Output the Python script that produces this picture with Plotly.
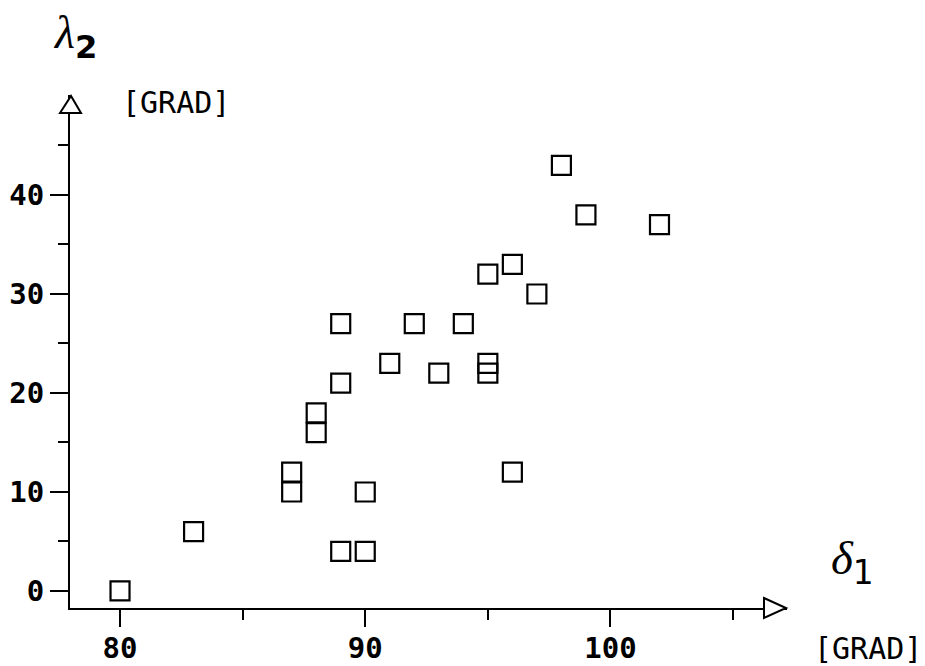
import plotly.graph_objects as go

# data
delta1 = [80, 83, 87, 87, 88, 88, 89, 89, 89, 90, 90, 91, 92, 93, 94, 95, 95, 95, 96, 96, 97, 98, 99, 102]
lambda2 = [0, 6, 12, 10, 18, 16, 27, 21, 4, 10, 4, 23, 27, 22, 27, 32, 23, 22, 33, 12, 30, 43, 38, 37]
x_major = [80, 90, 100]
x_minor = [85, 95, 105]
y_major = [0, 10, 20, 30, 40]
y_minor = [5, 15, 25, 35, 45]

W, H = 925, 666
OFF = 8  # default page body margin
# plot area in page pixels
L, R, T, B = 70, 787, 95, 608
pw, ph = R - L, B - T

def px(xp):
    return (xp - L) / pw

def py(yp):
    return (B - yp) / ph

MONO = "DejaVu Sans Mono"
TF = 29

fig = go.Figure()
fig.add_trace(go.Scatter(
    x=delta1, y=lambda2, mode="markers",
    marker=dict(symbol="square-open", size=19, color="black", line=dict(width=2.2, color="black")),
    cliponaxis=False, showlegend=False, hoverinfo="x+y"))

fig.update_xaxes(
    range=[77.96, 107.2], showgrid=False, zeroline=False, automargin=False,
    showline=True, linecolor="black", linewidth=2,
    tickmode="array", tickvals=x_major, ticktext=[str(v) for v in x_major],
    ticks="outside", ticklen=17, tickwidth=2, tickcolor="black", ticklabelstandoff=-4,
    minor=dict(tickmode="array", tickvals=x_minor, ticks="outside", ticklen=10, tickwidth=2, tickcolor="black", showgrid=False),
    tickfont=dict(family=MONO, size=TF, color="black", weight="bold"))
fig.update_yaxes(
    range=[-1.72, 50.1], showgrid=False, zeroline=False, automargin=False,
    showline=True, linecolor="black", linewidth=2,
    tickmode="array", tickvals=y_major, ticktext=[str(v) for v in y_major],
    ticks="outside", ticklen=18, tickwidth=2, tickcolor="black",
    minor=dict(tickmode="array", tickvals=y_minor, ticks="outside", ticklen=10, tickwidth=2, tickcolor="black", showgrid=False),
    tickfont=dict(family=MONO, size=TF, color="black", weight="bold"))

# arrow heads (open triangles)
up = "M {} {} L {} {} L {} {} Z".format(px(L - 10), py(113), px(L + 1), py(96), px(L + 11), py(113))
right = "M {} {} L {} {} L {} {} Z".format(px(764), py(598), px(786), py(608), px(764), py(618))
for p in (up, right):
    fig.add_shape(type="path", path=p, xref="paper", yref="paper",
                  line=dict(color="black", width=2), fillcolor="white", layer="above")

ann = [
    dict(text="[GRAD]", x=px(176), y=py(102), font=dict(family=MONO, size=TF + 1, color="black")),
    dict(text="[GRAD]", x=px(868), y=py(648), font=dict(family=MONO, size=TF + 1, color="black")),
    dict(text="<i>λ</i><sub><b><span style='font-family:DejaVu Sans'>2</span></b></sub>", x=px(75), y=py(36),
         font=dict(family="Liberation Serif", size=46, color="black")),
    dict(text="<i>δ</i><sub><span style='font-family:DejaVu Sans'>1</span></sub>", x=px(852), y=py(562),
         font=dict(family="Liberation Serif", size=47, color="black")),
]
for a in ann:
    fig.add_annotation(xref="paper", yref="paper", showarrow=False, xanchor="center", yanchor="middle", **a)

fig.update_layout(width=W, height=H,
                  margin=dict(l=L - OFF, r=W - (R - OFF), t=T - OFF, b=H - (B - OFF)),
                  paper_bgcolor="white", plot_bgcolor="white", showlegend=False)
fig.write_html("out.html")
